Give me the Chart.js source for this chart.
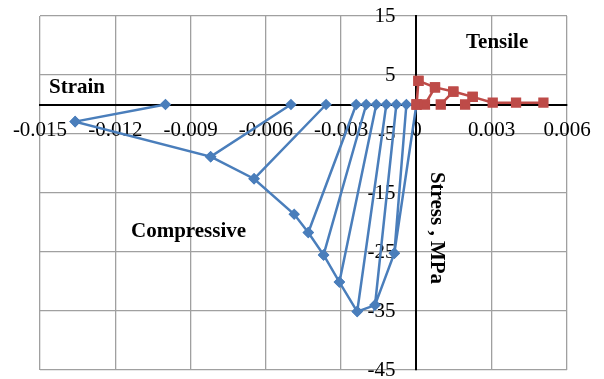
<!DOCTYPE html>
<html>
<head>
<meta charset="utf-8">
<script src="https://cdn.jsdelivr.net/npm/chart.js@4.4.0/dist/chart.umd.min.js"></script>
<style>
  body { margin: 0; background: #fff; }
  #wrap { width: 604px; height: 379px; }
</style>
</head>
<body>
<div id="wrap"><canvas id="chart" width="604" height="379"></canvas></div>
<script>
// Compressive envelope (strain, MPa) and residual strain after each unloading
const compStrain = [0, -0.00088, -0.00165, -0.00236, -0.00307, -0.0037, -0.00431, -0.00487, -0.00647, -0.0082, -0.0136];
const compStress = [0, -25.2, -34.0, -35.1, -30.1, -25.5, -21.7, -18.6, -12.6, -8.85, -2.9];
const compResidual = [null, -0.0004, -0.0008, -0.0012, -0.0016, -0.002, -0.0024, null, -0.0036, -0.005, -0.01];

// Tensile envelope and residuals
const tensStrain = [0, 0.00008, 0.00074, 0.00147, 0.00224, 0.00304, 0.00397, 0.00506];
const tensStress = [0, 4.0, 2.9, 2.2, 1.3, 0.3, 0.3, 0.3];
const tensResidual = [null, 0.00001, 0.00034, 0.00097, 0.00194, null, null, null];

// Axis ticks
const xTicks = [-0.015, -0.012, -0.009, -0.006, -0.003, 0, 0.003, 0.006];
const yTicks = [-45, -35, -25, -15, -5, 5, 15];

// walk the envelope, going down to the residual strain and back at each step
function buildPath(strain, stress, residual) {
  let pts = [];
  strain.forEach((s, i) => {
    pts.push({ x: s, y: stress[i] });
    if (residual[i] !== null) {
      pts.push({ x: residual[i], y: 0 });
      pts.push({ x: s, y: stress[i] });
    }
  });
  return pts;
}

const serif = "'Liberation Serif', 'Times New Roman', serif";

// free text labels on the plot
const textLabels = {
  id: "textLabels",
  afterDraw(chart) {
    const c = chart.ctx;
    c.save();
    c.fillStyle = "#000";
    c.font = "bold 21px " + serif;
    c.textBaseline = "middle";
    c.textAlign = "left";
    c.fillText("Strain", 49, 88);
    c.fillText("Tensile", 466, 43);
    c.fillText("Compressive", 131, 232);
    c.translate(436, 228);
    c.rotate(Math.PI / 2);
    c.textAlign = "center";
    c.fillText("Stress , MPa", 0, 0);
    c.restore();
  }
};

const gridColor = ctx => ctx.tick && ctx.tick.value === 0 ? "#000" : "#a0a0a0";
const gridWidth = ctx => ctx.tick && ctx.tick.value === 0 ? 2 : 1.3;

// axes sit inside the plot, so they must not take any layout room
function noRoom(s) {
  s.paddingLeft = s.paddingRight = s.paddingTop = s.paddingBottom = 0;
  if (s.isHorizontal()) s.height = 0; else s.width = 0;
}

new Chart(document.getElementById("chart"), {
  type: "scatter",
  data: {
    datasets: [
      {
        label: "Tensile",
        data: buildPath(tensStrain, tensStress, tensResidual),
        showLine: true,
        borderColor: "#be4b48",
        backgroundColor: "#be4b48",
        borderWidth: 2.5,
        pointStyle: "rect",
        pointRadius: 5.5,
        order: 0
      },
      {
        label: "Compressive",
        data: buildPath(compStrain, compStress, compResidual),
        showLine: true,
        borderColor: "#4a7ebb",
        backgroundColor: "#4a7ebb",
        borderWidth: 2.5,
        pointStyle: "rectRot",
        pointRadius: 4,
        order: 1
      }
    ]
  },
  options: {
    responsive: false,
    animation: false,
    layout: { padding: { left: 40, right: 37, top: 16, bottom: 9 } },
    plugins: { legend: { display: false }, tooltip: { enabled: false } },
    scales: {
      x: {
        type: "linear",
        position: { y: 0 },
        min: xTicks[0],
        max: xTicks[xTicks.length - 1],
        afterFit: noRoom,
        afterBuildTicks: s => { s.ticks = xTicks.map(v => ({ value: v })); },
        grid: { color: gridColor, lineWidth: gridWidth, drawTicks: false },
        border: { color: "#000", width: 2 },
        ticks: {
          padding: 13,
          color: "#000",
          font: { family: serif, size: 21 },
          callback: v => String(Number(v.toFixed(3)))
        }
      },
      y: {
        type: "linear",
        position: { x: 0 },
        min: yTicks[0],
        max: yTicks[yTicks.length - 1],
        afterFit: noRoom,
        afterBuildTicks: s => { s.ticks = yTicks.map(v => ({ value: v })); },
        grid: { color: gridColor, lineWidth: gridWidth, drawTicks: false },
        border: { color: "#000", width: 2 },
        ticks: {
          padding: 0,
          color: "#000",
          font: { family: serif, size: 21 },
          // two en spaces keep the label clear of the zero line
          callback: v => v + "\u2002\u2002"
        }
      }
    }
  },
  plugins: [textLabels]
});
</script>
</body>
</html>
